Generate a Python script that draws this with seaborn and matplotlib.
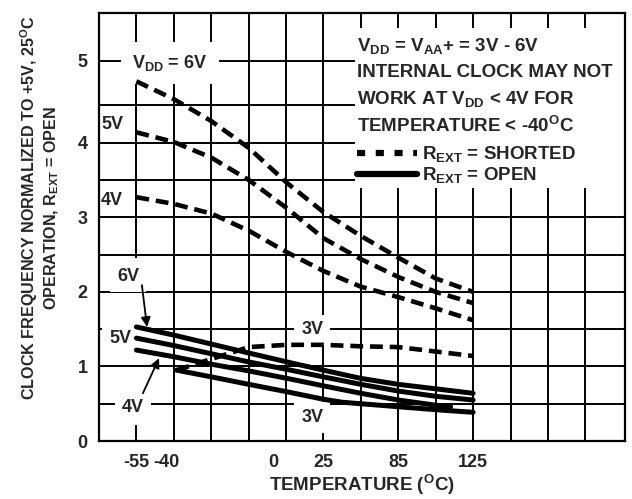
import numpy as np
import matplotlib
matplotlib.use("Agg")
import matplotlib.pyplot as plt
from matplotlib.lines import Line2D
from matplotlib.patches import Rectangle
import seaborn as sns

temps = [-55, -37, -23, -9, 7, 25, 55, 85, 105, 125]
temps_4v_open = [-55, -37, -23, -9, 7, 25, 55, 85, 105, 113]
temps_3v_open = [-36, -23, -9, 7, 25, 40, 55, 85, 105, 125]
temps_3v_short = [-36, -30, -23, -16, -9, 7, 25, 55, 85, 105, 125]

# R_EXT = SHORTED (dashed)
short_6v = [4.77, 4.57, 4.29, 3.93, 3.46, 3.07, 2.75, 2.46, 2.18, 2.00]
short_5v = [4.14, 4.01, 3.80, 3.50, 3.12, 2.72, 2.44, 2.20, 2.00, 1.85]
short_4v = [3.27, 3.18, 3.05, 2.82, 2.53, 2.28, 2.07, 1.93, 1.78, 1.62]
short_3v = [0.95, 1.02, 1.10, 1.18, 1.26, 1.29, 1.29, 1.27, 1.26, 1.20, 1.14]

# R_EXT = OPEN (solid)
open_6v = [1.53, 1.42, 1.30, 1.18, 1.06, 0.95, 0.84, 0.76, 0.70, 0.64]
open_5v = [1.38, 1.28, 1.17, 1.06, 0.96, 0.86, 0.76, 0.67, 0.60, 0.55]
open_4v = [1.22, 1.13, 1.03, 0.94, 0.84, 0.74, 0.64, 0.55, 0.48, 0.46]
open_3v = [0.95, 0.86, 0.76, 0.66, 0.56, 0.52, 0.50, 0.46, 0.42, 0.385]

x_ticks = [-55, -40, 0, 25, 85, 125]
y_ticks = [0, 1, 2, 3, 4, 5]

# the datasheet axis is hand drawn: temperature -> grid cell, value -> grid height
axis_temp = [-71, -55, -40, 0, 25, 85, 125, 206]
axis_cell = [0, 1, 1.79, 4.65, 6, 8, 10, 14.06]
axis_val = [0, 4.5, 5.0, 5.6]
axis_pos = [0, 4.5, 5.1, 5.74]


def x_fwd(t):
    return np.interp(t, axis_temp, axis_cell)


def x_inv(c):
    return np.interp(c, axis_cell, axis_temp)


def y_fwd(v):
    return np.interp(v, axis_val, axis_pos)


def y_inv(p):
    return np.interp(p, axis_pos, axis_val)


sns.set_style("white")
plt.rcParams["font.family"] = ["Liberation Sans", "DejaVu Sans"]
plt.rcParams["font.weight"] = "bold"
plt.rcParams["mathtext.fontset"] = "custom"
plt.rcParams["mathtext.rm"] = "Liberation Sans:bold"
plt.rcParams["mathtext.it"] = "Liberation Sans:bold"
plt.rcParams["mathtext.bf"] = "Liberation Sans:bold"

fig = plt.figure(figsize=(6.32, 4.99), dpi=100)
ax = fig.add_axes([0.1566, 0.1162, 0.8323, 0.8577])

dash = (0, (2.8, 1.5))
short_curves = [(temps, short_6v), (temps, short_5v), (temps, short_4v), (temps_3v_short, short_3v)]
open_curves = [(temps, open_6v), (temps, open_5v), (temps_4v_open, open_4v), (temps_3v_open, open_3v)]

for t, f in short_curves:
    sns.lineplot(x=t, y=f, ax=ax, color="black", linewidth=3.3, linestyle=dash,
                 estimator=None, sort=False, zorder=3)
for t, f in open_curves:
    sns.lineplot(x=t, y=f, ax=ax, color="black", linewidth=3.6,
                 estimator=None, sort=False, zorder=3)

ax.set_xscale("function", functions=(x_fwd, x_inv))
ax.set_yscale("function", functions=(y_fwd, y_inv))
ax.set_xlim(axis_temp[0], axis_temp[-1])
ax.set_ylim(0, 5.6)

# grid
grid_kw = dict(color="black", linewidth=1.4, zorder=1)
cells = np.arange(2, 14)
ax.vlines(x_inv(cells), 0, 5.6, **grid_kw)
ax.vlines(x_inv(1), 2.45, 5.6, **grid_kw)
ax.vlines(x_inv(1), 0, 0.21, **grid_kw)
ax.hlines(np.arange(0.5, 5.01, 0.5), axis_temp[0], axis_temp[-1], **grid_kw)

# white area behind the notes
ax.add_patch(Rectangle((0.487, 0.591), 0.513, 0.374, transform=ax.transAxes,
                       facecolor="white", edgecolor="none", zorder=2))

for s in ax.spines.values():
    s.set_linewidth(1.6)
    s.set_color("black")
    s.set_zorder(5)

ax.set_xticks(x_ticks)
ax.set_xticklabels([str(v) for v in x_ticks])
ax.set_xticks([-40, 0], minor=True)
ax.set_yticks(y_ticks)
ax.set_yticklabels([str(v) for v in y_ticks])
ax.set_yticks([], minor=True)
ax.tick_params(axis="both", which="major", length=0, labelsize=13)
ax.tick_params(axis="x", which="major", pad=9)
ax.tick_params(axis="y", which="major", pad=8)
ax.tick_params(axis="x", which="minor", length=7, width=1.6, direction="out", color="black")

ax.set_xlabel(r"TEMPERATURE ($^{\mathrm{O}}$C)", fontsize=13.5, fontweight="bold")
ax.xaxis.set_label_coords(0.5, -0.075)
ax.set_ylabel("CLOCK FREQUENCY NORMALIZED TO +5V, 25$^{\\mathrm{O}}$C\n"
              "OPERATION, R$_{\\mathrm{EXT}}$ = OPEN",
              fontsize=11.6, fontweight="bold", linespacing=1.15)
ax.yaxis.set_label_coords(-0.073, 0.545)

# curve labels
box = dict(facecolor="white", edgecolor="none", pad=5)
lab = dict(fontsize=13, fontweight="bold", ha="center", va="center", zorder=2.5)
ax.text(-38.5, 4.975, r"V$_{\mathrm{DD}}$ = 6V", bbox=dict(facecolor="white", edgecolor="none", pad=8), **lab)
ax.text(-65.4, 4.24, "5V", **lab)
ax.text(-65.4, 3.23, "4V", **lab)
ax.text(-58.6, 2.20, "6V", bbox=box, **lab)
ax.text(-62.0, 1.38, "5V", bbox=box, **lab)
ax.text(-56.4, 0.456, "4V", bbox=box, **lab)
ax.text(19.4, 1.49, "3V", bbox=box, **lab)
ax.text(19.4, 0.32, "3V", bbox=box, **lab)

arrow = dict(arrowstyle="-|>", color="black", lw=1.3, mutation_scale=14, shrinkA=0, shrinkB=0)
ax.annotate("", xy=(-49.6, 1.53), xytext=(-52.2, 2.09), arrowprops=arrow, zorder=4)
ax.annotate("", xy=(-43.5, 1.11), xytext=(-51.7, 0.64), arrowprops=arrow, zorder=4)

# notes block
notes = [
    r"V$_{\mathrm{DD}}$ = V$_{\mathrm{AA}}$+ = 3V - 6V",
    "INTERNAL CLOCK MAY NOT",
    r"WORK AT V$_{\mathrm{DD}}$ < 4V FOR",
    r"TEMPERATURE < -40$^{\mathrm{O}}$C",
]
for i, line in enumerate(notes):
    ax.text(0.4905, 0.923 - i * 0.062, line, transform=ax.transAxes, fontsize=13.5,
            fontweight="bold", ha="left", va="center", zorder=4)

handles = [
    Line2D([], [], color="black", linewidth=4.5, linestyle=(0, (1.3, 1.7))),
    Line2D([], [], color="black", linewidth=4.5),
]
ax.legend(handles, [r"R$_{\mathrm{EXT}}$ = SHORTED", r"R$_{\mathrm{EXT}}$ = OPEN"],
          loc="center left", bbox_to_anchor=(0.4905, 0.645), frameon=False,
          borderpad=0, borderaxespad=0, handlelength=3.2, handletextpad=0.25,
          labelspacing=0.05, prop=dict(size=13.5, weight="bold"))

fig.savefig("out.png", dpi=100)
